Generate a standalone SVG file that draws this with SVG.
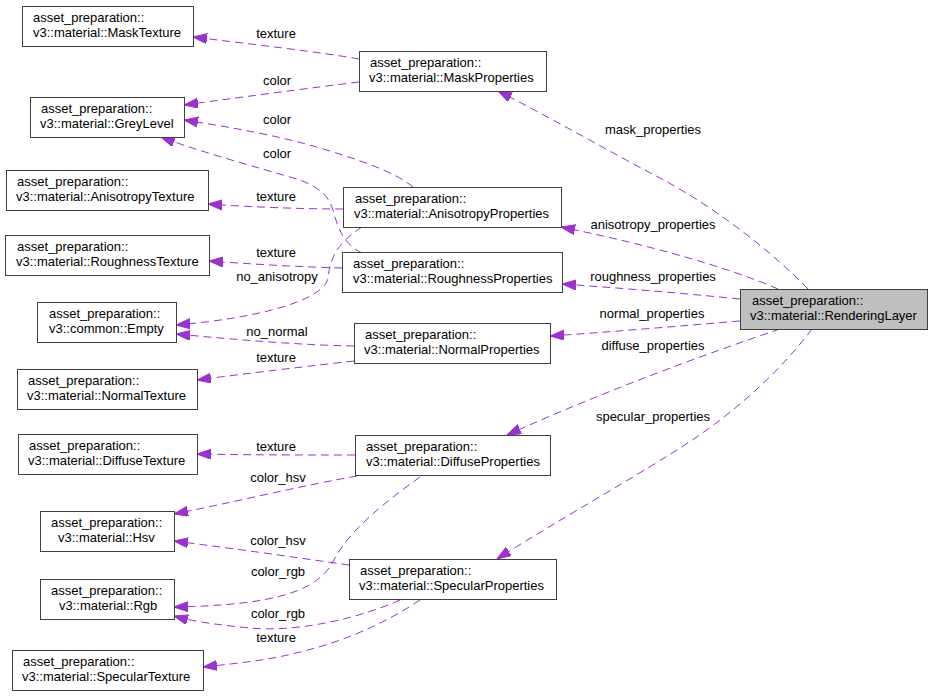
<svg xmlns="http://www.w3.org/2000/svg" width="932" height="696" viewBox="0 0 932 696">
<style>
text{font-family:"Liberation Sans",Arial,sans-serif;font-size:13px;fill:#000}
.n rect{fill:#fff;stroke:#404040;stroke-width:1}
.n.root rect{fill:#bfbfbf}
.e path{fill:none;stroke:#9a32cd;stroke-width:1;stroke-dasharray:8,5;marker-end:url(#ah)}
.lbl text{text-anchor:middle}
</style>
<defs>
<marker id="ah" markerUnits="userSpaceOnUse" markerWidth="15" markerHeight="11" refX="14" refY="5" orient="auto">
<path d="M0,0 L14,5 L0,10 z" fill="#9a32cd" stroke="#9a32cd" stroke-width="1"/>
</marker>
</defs>
<rect width="932" height="696" fill="#fff"/>
<g id="edges" class="e">
<path d="M359,59 C320,52 250,44 193,37"/>
<path d="M359,82 C310,88 250,96 184,105"/>
<path d="M413,187 C395,172 360,160 320,148 C280,136 230,127 184,120"/>
<path d="M362,253 C345,245 338,230 333,210 C328,195 320,188 300,180 C260,168 200,152 161,137"/>
<path d="M343,209 C300,209 250,207 208,204"/>
<path d="M342,268 C300,267 250,264 209,261"/>
<path d="M362,227 C338,242 330,258 328,278 C324,300 260,318 176,325"/>
<path d="M354,346 C300,345 240,340 176,334"/>
<path d="M354,361 C310,366 250,373 197,380"/>
<path d="M355,455 C300,455 250,455 197,454"/>
<path d="M357,476 C300,486 230,503 174,514"/>
<path d="M420,477 C385,502 350,530 335,558 C320,590 280,605 174,607"/>
<path d="M349,565 C300,558 230,548 174,541"/>
<path d="M400,600 C350,622 290,632 250,628 C220,625 195,622 174,616"/>
<path d="M420,600 C390,620 350,640 300,652 C270,660 240,663 203,667"/>
<path d="M808,289 C775,255 720,210 660,178 C610,152 555,120 498,91"/>
<path d="M778,289 C730,268 650,245 561,227"/>
<path d="M740,299 C680,293 620,288 562,284"/>
<path d="M740,321 C680,326 610,332 550,336"/>
<path d="M780,329 C700,356 600,393 507,435"/>
<path d="M812,329 C785,365 740,410 680,448 C620,486 550,525 497,559"/>
</g>
<g id="edge-labels" class="lbl">
<text x="276" y="38">texture</text>
<text x="277" y="85">color</text>
<text x="277" y="124">color</text>
<text x="277" y="158">color</text>
<text x="276" y="201">texture</text>
<text x="276" y="257">texture</text>
<text x="277" y="281">no_anisotropy</text>
<text x="277" y="336">no_normal</text>
<text x="276" y="362">texture</text>
<text x="276" y="451">texture</text>
<text x="278" y="482">color_hsv</text>
<text x="278" y="545">color_hsv</text>
<text x="278" y="576">color_rgb</text>
<text x="278" y="618">color_rgb</text>
<text x="276" y="642">texture</text>
<text x="653" y="134">mask_properties</text>
<text x="653" y="229">anisotropy_properties</text>
<text x="653" y="281">roughness_properties</text>
<text x="652" y="318">normal_properties</text>
<text x="653" y="350">diffuse_properties</text>
<text x="653" y="421">specular_properties</text>
</g>
<g id="MaskTexture" class="n"><rect x="22.5" y="6.5" width="171" height="40"/><text x="33" y="22">asset_preparation::</text><text x="33" y="37">v3::material::MaskTexture</text></g>
<g id="GreyLevel" class="n"><rect x="30.5" y="97.5" width="154" height="40"/><text x="41" y="113">asset_preparation::</text><text x="40" y="128">v3::material::GreyLevel</text></g>
<g id="AnisotropyTexture" class="n"><rect x="6.5" y="170.5" width="202" height="40"/><text x="17" y="186">asset_preparation::</text><text x="16" y="201">v3::material::AnisotropyTexture</text></g>
<g id="RoughnessTexture" class="n"><rect x="5.5" y="235.5" width="204" height="40"/><text x="17" y="251">asset_preparation::</text><text x="16" y="266">v3::material::RoughnessTexture</text></g>
<g id="Empty" class="n"><rect x="37.5" y="302.5" width="139" height="40"/><text x="49" y="318">asset_preparation::</text><text x="49" y="333">v3::common::Empty</text></g>
<g id="NormalTexture" class="n"><rect x="17.5" y="369.5" width="180" height="40"/><text x="28" y="385">asset_preparation::</text><text x="27" y="400">v3::material::NormalTexture</text></g>
<g id="DiffuseTexture" class="n"><rect x="18.5" y="434.5" width="179" height="40"/><text x="29" y="450">asset_preparation::</text><text x="28" y="465">v3::material::DiffuseTexture</text></g>
<g id="Hsv" class="n"><rect x="40.5" y="511.5" width="134" height="40"/><text x="51" y="527">asset_preparation::</text><text x="58" y="542">v3::material::Hsv</text></g>
<g id="Rgb" class="n"><rect x="40.5" y="579.5" width="134" height="40"/><text x="51" y="595">asset_preparation::</text><text x="59" y="610">v3::material::Rgb</text></g>
<g id="SpecularTexture" class="n"><rect x="12.5" y="650.5" width="191" height="40"/><text x="23" y="666">asset_preparation::</text><text x="22" y="681">v3::material::SpecularTexture</text></g>
<g id="MaskProperties" class="n"><rect x="359.5" y="51.5" width="187" height="40"/><text x="370" y="67">asset_preparation::</text><text x="369" y="82">v3::material::MaskProperties</text></g>
<g id="AnisotropyProperties" class="n"><rect x="343.5" y="187.5" width="218" height="40"/><text x="355" y="203">asset_preparation::</text><text x="354" y="218">v3::material::AnisotropyProperties</text></g>
<g id="RoughnessProperties" class="n"><rect x="342.5" y="252.5" width="220" height="40"/><text x="353" y="268">asset_preparation::</text><text x="353" y="283">v3::material::RoughnessProperties</text></g>
<g id="NormalProperties" class="n"><rect x="354.5" y="323.5" width="196" height="40"/><text x="365" y="339">asset_preparation::</text><text x="364" y="354">v3::material::NormalProperties</text></g>
<g id="DiffuseProperties" class="n"><rect x="355.5" y="435.5" width="195" height="40"/><text x="366" y="451">asset_preparation::</text><text x="366" y="466">v3::material::DiffuseProperties</text></g>
<g id="SpecularProperties" class="n"><rect x="349.5" y="559.5" width="207" height="40"/><text x="360" y="575">asset_preparation::</text><text x="359" y="590">v3::material::SpecularProperties</text></g>
<g id="RenderingLayer" class="n root"><rect x="740.5" y="289.5" width="187" height="40"/><text x="752" y="305">asset_preparation::</text><text x="750" y="320">v3::material::RenderingLayer</text></g>
</svg>
